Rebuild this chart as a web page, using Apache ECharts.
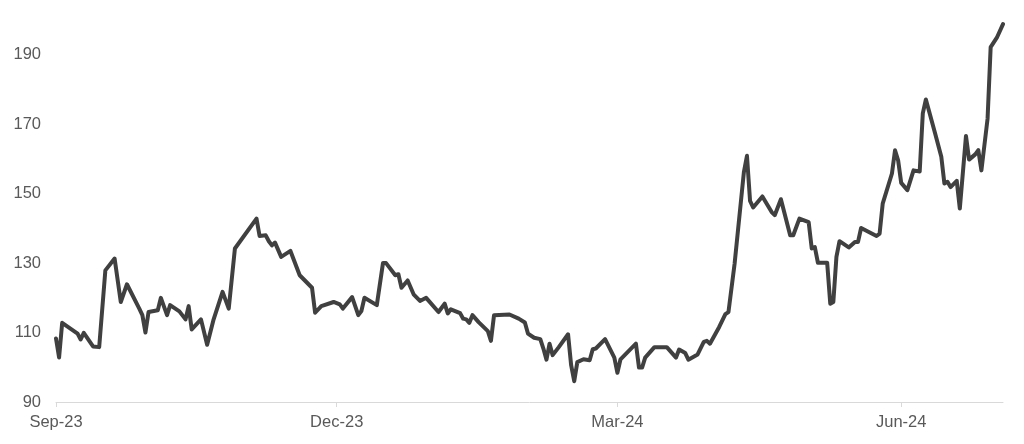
<!DOCTYPE html>
<html>
<head>
<meta charset="utf-8">
<script src="https://cdn.jsdelivr.net/npm/echarts@6/dist/echarts.min.js"></script>
<style>
  html, body { margin: 0; padding: 0; background: #fff; }
  #chart { width: 1024px; height: 444px; }
</style>
</head>
<body>
<div id="chart"></div>
<script>
// days after the first date at each corner of the line
const startDate = '2023-09-01'
const days = [
  0, 1, 2, 7, 8, 9, 12, 14, 16, 19, 21, 23, 27, 28, 29, 30, 33, 34, 36, 37,
  40, 42, 43, 44, 47, 49, 51, 54, 56, 58, 65, 66, 68, 69, 70, 71, 73, 76, 79, 83,
  84, 86, 90, 92, 93, 96, 98, 99, 100, 104, 106, 107, 110, 111, 112, 114, 116, 118, 120, 124,
  126, 127, 128, 131, 132, 133, 134, 135, 137, 140, 141, 142, 147, 150, 152, 153, 155, 157, 158, 159,
  160, 161, 163, 166, 167, 168, 169, 171, 173, 174, 175, 178, 181, 182, 183, 188, 189, 190, 191, 194,
  198, 201, 202, 204, 205, 208, 210, 211, 212, 215, 217, 218, 220, 223, 224, 225, 226, 229, 232, 233,
  235, 238, 239, 241, 244, 245, 246, 247, 250, 251, 252, 253, 254, 257, 259, 260, 261, 266, 267, 268,
  271, 272, 273, 274, 276, 278, 280, 281, 282, 285, 287, 288, 289, 290, 292, 293, 295, 296, 298, 299,
  300, 302, 303, 305, 307,
]
const prices = [
  108.3, 102.8, 112.8, 109.7, 108.0, 109.9, 106.0, 105.8, 127.9, 131.3, 118.8, 123.9, 116.9, 115.0, 110.0, 115.9, 116.4, 120.0, 115.0, 117.9,
  116.1, 113.8, 117.6, 110.9, 113.8, 106.5, 113.5, 121.7, 116.9, 134.2, 142.8, 137.8, 138.0, 136.3, 135.1, 135.9, 131.8, 133.5, 126.5, 122.9,
  115.7, 117.6, 118.8, 118.1, 116.9, 120.2, 115.0, 116.2, 120.0, 117.9, 130.0, 130.0, 126.5, 126.8, 122.9, 125.0, 120.9, 119.1, 120.0, 115.9,
  118.3, 115.5, 116.7, 115.6, 114.0, 113.8, 112.8, 115.0, 113.0, 110.4, 107.6, 115.0, 115.2, 114.0, 112.9, 109.7, 108.5, 108.1, 105.4, 102.2,
  106.8, 103.5, 105.8, 109.5, 100.6, 96.0, 101.5, 102.3, 102.0, 105.2, 105.4, 108.1, 102.8, 98.4, 102.3, 106.8, 99.9, 99.9, 102.8, 105.8,
  105.8, 102.8, 105.1, 104.1, 102.2, 103.7, 107.3, 107.6, 106.8, 111.6, 115.3, 115.9, 129.9, 156.2, 160.9, 147.9, 146.0, 149.2, 144.7, 143.8,
  148.4, 138.0, 138.0, 142.8, 141.8, 134.2, 134.6, 130.1, 130.1, 118.3, 118.8, 131.8, 136.3, 134.5, 136.1, 136.1, 140.1, 137.8, 138.5, 147.1,
  155.8, 162.5, 159.6, 153.1, 151.0, 156.7, 156.4, 173.1, 177.1, 167.3, 160.6, 152.9, 153.4, 151.9, 153.7, 145.7, 166.6, 159.8, 161.3, 162.5,
  156.7, 171.6, 192.2, 194.9, 198.8,
]
const tickDates = ['2023-09-01', '2023-12-01', '2024-03-01', '2024-06-01']
const monthNames = ['Jan', 'Feb', 'Mar', 'Apr', 'May', 'Jun', 'Jul', 'Aug', 'Sep', 'Oct', 'Nov', 'Dec']

const DAY = 86400000
const toTime = (s) => {
  const [y, m, d] = s.split('-').map(Number)
  return Date.UTC(y, m - 1, d)
}
const t0 = toTime(startDate)
const points = days.map((d, i) => [t0 + d * DAY, prices[i]])
const tickValues = tickDates.map(toTime)

function fmtMonth(v) {
  const dt = new Date(v)
  return monthNames[dt.getUTCMonth()] + '-' + String(dt.getUTCFullYear()).slice(2)
}

const labelColor = '#595959'
const font = 'Liberation Sans, Arial, sans-serif'
const chart = echarts.init(document.getElementById('chart'), null, { renderer: 'canvas' })

// x is a plain value axis of timestamps so the month ticks can be placed exactly
chart.setOption({
  animation: false,
  grid: { left: 56, right: 21, top: 20, bottom: 42 },
  xAxis: {
    type: 'value',
    min: t0,
    max: t0 + days[days.length - 1] * DAY,
    axisLine: { show: true, lineStyle: { color: '#d9d9d9', width: 1 } },
    axisTick: {
      show: true,
      customValues: tickValues,
      length: 5,
      lineStyle: { color: '#d9d9d9' },
    },
    axisLabel: {
      customValues: tickValues,
      formatter: (v) => fmtMonth(v),
      color: labelColor,
      fontFamily: font,
      fontSize: 16.5,
      margin: 12,
    },
    splitLine: { show: false },
  },
  yAxis: {
    type: 'value',
    min: 90,
    max: 200,
    interval: 20,
    axisLine: { show: false },
    axisTick: { show: false },
    splitLine: { show: false },
    axisLabel: {
      showMaxLabel: false,
      color: labelColor,
      fontFamily: font,
      fontSize: 16.5,
      margin: 15,
    },
  },
  series: [
    {
      type: 'line',
      data: points,
      showSymbol: false,
      lineStyle: { color: '#404040', width: 4, join: 'round', cap: 'round' },
    },
  ],
})
</script>
</body>
</html>
